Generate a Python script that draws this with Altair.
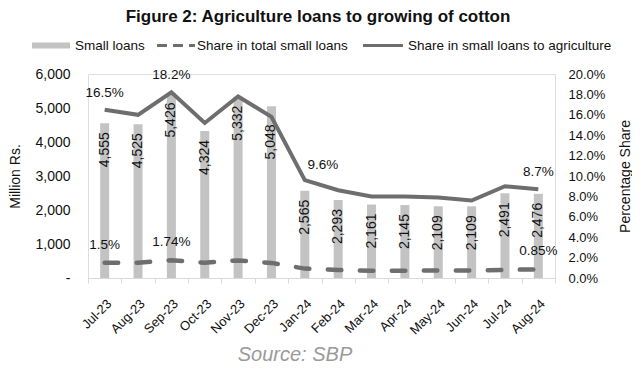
import altair as alt
import pandas as pd

months = ["Jul-23", "Aug-23", "Sep-23", "Oct-23", "Nov-23", "Dec-23", "Jan-24",
          "Feb-24", "Mar-24", "Apr-24", "May-24", "Jun-24", "Jul-24", "Aug-24"]
small_loans = [4555, 4525, 5426, 4324, 5332, 5048, 2565, 2293, 2161, 2145, 2109, 2109, 2491, 2476]
share_agri = [0.165, 0.160, 0.182, 0.152, 0.178, 0.158, 0.096, 0.086, 0.080, 0.080, 0.079, 0.076, 0.090, 0.087]
share_total = [0.0150, 0.0150, 0.0174, 0.0150, 0.0172, 0.0148, 0.0092, 0.0078, 0.0072, 0.0072, 0.0073, 0.0073, 0.0080, 0.0085]

agri_label_months = ["Jul-23", "Sep-23", "Aug-24"]
agri_label_text = ["16.5%", "18.2%", "8.7%"]
agri_shift_months = ["Jan-24"]
agri_shift_text = ["9.6%"]
total_label_months = ["Jul-23", "Sep-23", "Aug-24"]
total_label_text = ["1.5%", "1.74%", "0.85%"]
bar_label_lowered = ["Dec-23"]

left_ticks = [0, 1000, 2000, 3000, 4000, 5000, 6000]
right_ticks = [0.0, 0.02, 0.04, 0.06, 0.08, 0.10, 0.12, 0.14, 0.16, 0.18, 0.20]

title_text = "Figure 2: Agriculture loans to growing of cotton"
legend_labels = ["Small loans", "Share in total small loans", "Share in small loans to agriculture"]
source_text = "Source: SBP"

FONT = "Liberation Sans"
BAR_C = "#c3c3c3"
LINE_C = "#6e6e6e"

df = pd.DataFrame({"month": months, "loans": small_loans,
                   "agri": share_agri, "total": share_total})

agri_idx = {m: share_agri[months.index(m)] for m in months}
total_idx = {m: share_total[months.index(m)] for m in months}
agri_lab = pd.DataFrame({"month": agri_label_months, "v": [agri_idx[m] for m in agri_label_months], "t": agri_label_text})
agri_shift = pd.DataFrame({"month": agri_shift_months, "v": [agri_idx[m] for m in agri_shift_months], "t": agri_shift_text})
total_lab = pd.DataFrame({"month": total_label_months, "v": [total_idx[m] for m in total_label_months], "t": total_label_text})

xenc = alt.X("month:N", sort=months, title=None,
             scale=alt.Scale(paddingInner=0, paddingOuter=0),
             axis=alt.Axis(labelAngle=-45, labelFontSize=13, labelFont=FONT, labelColor="#111",
                           domainColor="#d9d9d9", tickColor="#d9d9d9", tickSize=5,
                           tickBand="extent", labelPadding=14, labelOverlap=False))

yleft = alt.Y("loans:Q", title="Million Rs.",
              scale=alt.Scale(domain=[0, 6000]),
              axis=alt.Axis(orient="left", values=left_ticks, tickCount=50,
                            labelExpr="datum.value == 0 ? '-\u00a0\u00a0\u00a0' : format(datum.value, ',')",
                            grid=False, domain=False, ticks=False, labelPadding=18,
                            labelOverlap=False,
                            labelFontSize=14, labelFont=FONT, labelColor="#111",
                            titleFontSize=14, titleFont=FONT, titleFontWeight="normal",
                            titleColor="#111", titlePadding=12))

base = alt.Chart(df)
bars = base.mark_bar(color=BAR_C, size=9).encode(x=xenc, y=yleft)
btxt_kw = dict(angle=270, align="right", baseline="middle", fontSize=14, font=FONT, color="#111")
bar_text = base.mark_text(dx=-9, **btxt_kw).encode(
    x=alt.X("month:N", sort=months), y=alt.Y("loans:Q"), text=alt.Text("loans:Q", format=",")
).transform_filter(alt.FieldOneOfPredicate(field="month", oneOf=bar_label_lowered).__invert__())
bar_text_low = base.mark_text(dx=-18, **btxt_kw).encode(
    x=alt.X("month:N", sort=months), y=alt.Y("loans:Q"), text=alt.Text("loans:Q", format=",")
).transform_filter(alt.FieldOneOfPredicate(field="month", oneOf=bar_label_lowered))
left = alt.layer(bars, bar_text, bar_text_low)

yright_axis = alt.Axis(orient="right", values=right_ticks, tickCount=50, format=".1%",
                       grid=False, domain=False, ticks=False, labelPadding=13,
                       labelOverlap=False,
                       labelFontSize=13, labelFont=FONT, labelColor="#111",
                       titleFontSize=14, titleFont=FONT, titleFontWeight="normal",
                       titleColor="#111", titlePadding=28, titleAngle=270)
yright = alt.Y("agri:Q", title="Percentage Share", scale=alt.Scale(domain=[0, 0.2]), axis=yright_axis)

line_agri = base.mark_line(color=LINE_C, strokeWidth=4, strokeJoin="miter").encode(
    x=alt.X("month:N", sort=months), y=yright)
line_total = base.mark_line(color=LINE_C, strokeWidth=4.5, strokeDash=[13.5, 18.5], strokeCap="round").encode(
    x=alt.X("month:N", sort=months), y=alt.Y("total:Q"))

lab_kw = dict(fontSize=13.5, font=FONT, color="#111", align="center", baseline="middle")
t1 = alt.Chart(agri_lab).mark_text(dy=-17, **lab_kw).encode(
    x=alt.X("month:N", sort=months), y=alt.Y("v:Q"), text="t:N")
t2 = alt.Chart(agri_shift).mark_text(dx=18, dy=-15, **lab_kw).encode(
    x=alt.X("month:N", sort=months), y=alt.Y("v:Q"), text="t:N")
t3 = alt.Chart(total_lab).mark_text(dy=-18, **lab_kw).encode(
    x=alt.X("month:N", sort=months), y=alt.Y("v:Q"), text="t:N")
right = alt.layer(line_agri, line_total, t1, t2, t3)

# title, legend and source
title = alt.Chart(pd.DataFrame({"t": [title_text]})).mark_text(
    fontSize=17, fontWeight="bold", font=FONT, color="#111", align="center", baseline="middle").encode(
    x=alt.value(230), y=alt.value(-57), text="t:N")
src = alt.Chart(pd.DataFrame({"t": [source_text]})).mark_text(
    fontSize=20, fontStyle="italic", font=FONT, color="#9a9a9a", align="center", baseline="middle").encode(
    x=alt.value(207), y=alt.value(281), text="t:N")

leg_y = -28.5
sw_bar = alt.Chart(pd.DataFrame({"k": [legend_labels[0]]})).mark_rect(color=BAR_C).encode(
    x=alt.value(-56), x2=alt.value(-18), y=alt.value(leg_y - 3), y2=alt.value(leg_y + 3))
sw_dash = alt.Chart(pd.DataFrame({"k": [legend_labels[1]]})).mark_rule(
    color=LINE_C, strokeWidth=3, strokeDash=[10, 6]).encode(
    x=alt.value(69), x2=alt.value(107), y=alt.value(leg_y))
sw_line = alt.Chart(pd.DataFrame({"k": [legend_labels[2]]})).mark_rule(
    color=LINE_C, strokeWidth=3).encode(
    x=alt.value(275), x2=alt.value(315), y=alt.value(leg_y))
leg_kw = dict(fontSize=13.5, font=FONT, color="#111", align="left", baseline="middle")
lt1 = alt.Chart(pd.DataFrame({"t": [legend_labels[0]]})).mark_text(**leg_kw).encode(
    x=alt.value(-13), y=alt.value(leg_y), text="t:N")
lt2 = alt.Chart(pd.DataFrame({"t": [legend_labels[1]]})).mark_text(**leg_kw).encode(
    x=alt.value(109), y=alt.value(leg_y), text="t:N")
lt3 = alt.Chart(pd.DataFrame({"t": [legend_labels[2]]})).mark_text(**leg_kw).encode(
    x=alt.value(320), y=alt.value(leg_y), text="t:N")

chart = alt.layer(left, right, title, src, sw_bar, sw_dash, sw_line, lt1, lt2, lt3).resolve_scale(
    y="independent").properties(
    width=467, height=204,
    autosize=alt.AutoSizeParams(type="none"),
    padding={"left": 80, "top": 66, "right": 77, "bottom": 87},
).configure_view(stroke=None).configure(background="white")

chart.save("out.html", embed_options={"renderer": "svg", "actions": False})
